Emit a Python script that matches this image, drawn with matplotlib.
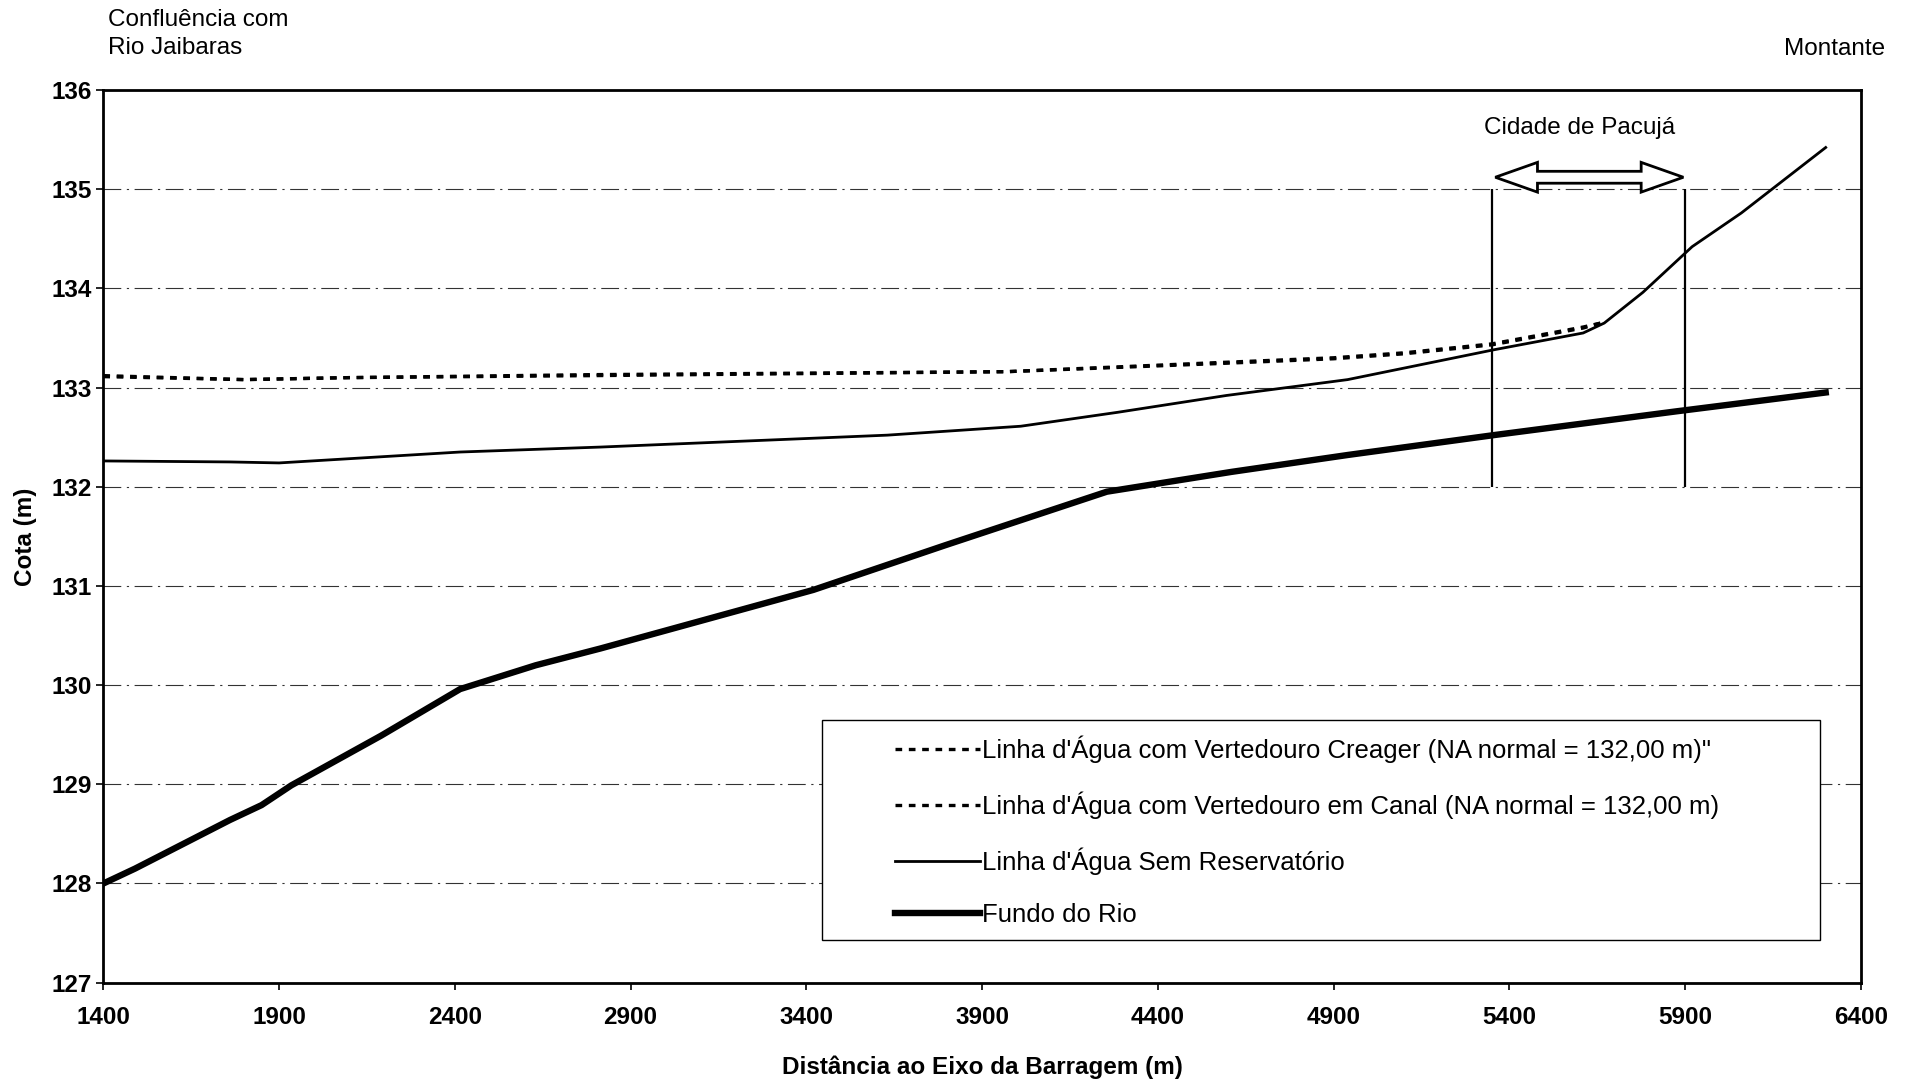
import matplotlib
matplotlib.use("Agg")
import matplotlib.pyplot as plt
from matplotlib.patches import Rectangle, Polygon

plt.rcParams['font.family'] = ['Liberation Sans', 'DejaVu Sans']

# perfil do fundo do rio
x_fundo = [1400, 1490, 1760, 1850, 1935, 2190, 2415, 2630, 2815, 3420, 3795,
           4255, 4610, 4940, 5355, 5875, 6300]
y_fundo = [128.00, 128.15, 128.64, 128.79, 128.99, 129.49, 129.96, 130.20, 130.37,
           130.96, 131.41, 131.95, 132.15, 132.32, 132.52, 132.76, 132.95]

# linha d'agua sem reservatorio
x_sem = [1400, 1760, 1900, 2415, 2815, 3630, 4010, 4285, 4595, 4940, 5355,
         5610, 5670, 5780, 5920, 6060, 6300]
y_sem = [132.26, 132.25, 132.24, 132.35, 132.40, 132.52, 132.61, 132.75, 132.92,
         133.08, 133.38, 133.55, 133.65, 133.96, 134.42, 134.76, 135.42]

# linhas d'agua com vertedouro (praticamente coincidentes)
x_creager = [1400, 1800, 2100, 2790, 3970, 4560, 4900, 5100, 5350, 5610, 5660]
y_creager = [133.12, 133.08, 133.10, 133.13, 133.16, 133.25, 133.30, 133.35,
             133.44, 133.61, 133.65]
x_canal = [1400, 1800, 2100, 2790, 3970, 4560, 4900, 5100, 5350, 5610, 5660]
y_canal = [133.11, 133.08, 133.10, 133.12, 133.16, 133.24, 133.29, 133.34,
           133.43, 133.60, 133.65]

x_ticks = [1400, 1900, 2400, 2900, 3400, 3900, 4400, 4900, 5400, 5900, 6400]
y_ticks = [127, 128, 129, 130, 131, 132, 133, 134, 135, 136]

# limites da cidade de Pacuja
x_cidade = [5350, 5900]

fs = 17.5

fig = plt.figure(figsize=(19.07, 10.8), dpi=100)
ax = fig.add_axes([0.0542, 0.0901, 0.9216, 0.8266])

ax.plot(x_creager, y_creager, color='black', lw=2.4, ls=(0, (2.0, 2.0)),
        label="Linha d'Água com Vertedouro Creager (NA normal = 132,00 m)\"", zorder=4)
ax.plot(x_canal, y_canal, color='black', lw=2.4, ls=(0, (2.0, 2.0)),
        label="Linha d'Água com Vertedouro em Canal (NA normal = 132,00 m)", zorder=4)
ax.plot(x_sem, y_sem, color='black', lw=2.0,
        label="Linha d'Água Sem Reservatório", zorder=4)
ax.plot(x_fundo, y_fundo, color='black', lw=4.6,
        label="Fundo do Rio", zorder=4)

ax.set_xlim(1400, 6400)
ax.set_ylim(127, 136)
ax.set_xticks(x_ticks)
ax.set_yticks(y_ticks)
ax.tick_params(axis='x', direction='out', length=5, width=1.2, pad=12, labelsize=fs)
ax.tick_params(axis='y', direction='out', length=5, width=1.2, pad=3, labelsize=fs)
for lab in ax.get_xticklabels() + ax.get_yticklabels():
    lab.set_fontweight('bold')

ax.yaxis.grid(True, color='black', alpha=0.8, lw=0.8, ls=(0, (16, 5, 2, 5)))
ax.set_axisbelow(True)
for s in ax.spines.values():
    s.set_linewidth(2.0)

ax.set_xlabel('Distância ao Eixo da Barragem (m)', fontsize=fs, fontweight='bold')
ax.set_ylabel('Cota (m)', fontsize=fs, fontweight='bold')
ax.xaxis.set_label_coords(0.5, -0.081)
ax.yaxis.set_label_coords(-0.038, 0.5)

# cidade de Pacuja
ax.vlines(x_cidade, 132, 135, color='black', lw=1.6, zorder=3)
ax.text(5600, 135.62, 'Cidade de Pacujá', ha='center', va='center', fontsize=fs)
xa, xb, ya = 5360, 5895, 135.12
hl, hh, sh = 120, 0.15, 0.06
arrow = Polygon([(xa, ya), (xa + hl, ya + hh), (xa + hl, ya + sh), (xb - hl, ya + sh),
                 (xb - hl, ya + hh), (xb, ya), (xb - hl, ya - hh), (xb - hl, ya - sh),
                 (xa + hl, ya - sh), (xa + hl, ya - hh)], closed=True,
                facecolor='white', edgecolor='black', lw=2.0, zorder=5)
ax.add_patch(arrow)

# caixa da legenda
ax.add_patch(Rectangle((0.409, 0.048), 0.568, 0.246, transform=ax.transAxes,
                       facecolor='white', edgecolor='black', lw=1.0, zorder=2))
leg = ax.legend(loc='upper left', bbox_to_anchor=(0.4505, 0.2765), frameon=False,
                fontsize=18.5, handlelength=3.3, handletextpad=0.08, labelspacing=1.10,
                borderpad=0, borderaxespad=0)
leg.set_zorder(6)

fig.text(0.0568, 0.992, 'Confluência com\nRio Jaibaras', ha='left', va='top',
         fontsize=fs, linespacing=1.35)
fig.text(0.9885, 0.955, 'Montante', ha='right', va='center', fontsize=fs)

fig.savefig('out.png', dpi=100)
